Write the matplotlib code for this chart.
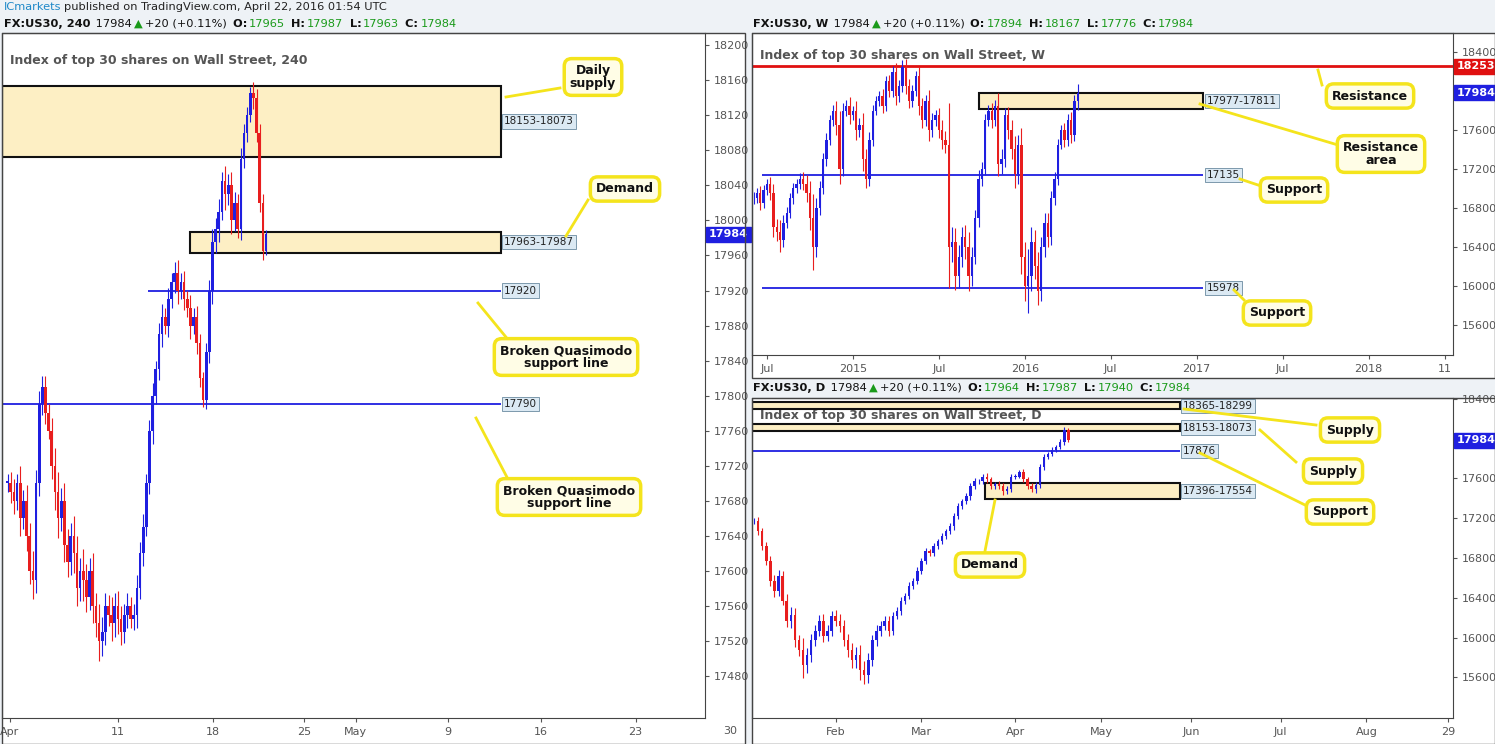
import matplotlib
matplotlib.use("Agg")
import matplotlib.pyplot as plt
from matplotlib.patches import Rectangle
from matplotlib.lines import Line2D

W, H = 1495, 744
UP, DN = "#1f1fe0", "#e81e1e"
ZONE_FC, ZONE_EC = "#fdefc4", "#111111"
CALL_FC, CALL_EC = "#fffde6", "#f4e41c"
LBL_FC = "#dbe9f3"

# ---- 240 chart (candle index 0 = Apr 4, 6 candles per day) ----
h4_close = [17700, 17690, 17680, 17700, 17660, 17680, 17640, 17600, 17590, 17700,
            17790, 17810, 17780, 17760, 17720, 17690, 17660, 17680, 17630, 17610,
            17640, 17620, 17580, 17600, 17590, 17570, 17600, 17560, 17540, 17520,
            17530, 17560, 17550, 17540, 17560, 17545, 17530, 17550, 17560, 17545,
            17550, 17580, 17620, 17650, 17700, 17760, 17800, 17830, 17870, 17890,
            17880, 17910, 17930, 17940, 17920, 17930, 17910, 17900, 17880, 17890,
            17860, 17820, 17795, 17850, 17920, 17975, 17990, 18010, 18045, 18030,
            18040, 18000, 18020, 17990, 18070, 18100, 18120, 18145, 18140, 18100,
            18020, 17965, 17984]
h4_wick = [20, 25, 30, 20, 40, 25, 35, 30, 45, 30,
           30, 25, 25, 20, 30, 40, 45, 30, 40, 35,
           30, 45, 40, 30, 50, 35, 30, 40, 30, 45,
           35, 30, 25, 40, 30, 35, 30, 25, 30, 20,
           25, 30, 25, 30, 20, 25, 30, 20, 25, 30,
           20, 25, 20, 25, 30, 20, 25, 20, 30, 20,
           25, 20, 15, 20, 25, 30, 25, 30, 20, 35,
           25, 30, 25, 20, 25, 20, 20, 15, 25, 20,
           20, 20, 10]
h4_start = -2
h4_ticks = [-1.3, 33, 63.1, 92, 108.5, 137.7, 167.2, 197.3]
h4_ticklabels = ["Apr", "11", "18", "25", "May", "9", "16", "23"]

# ---- weekly chart (index 0 = first week of 2015) ----
wk_close = [16900, 16950, 16850, 16980, 17050, 16950, 16600, 16550, 16470, 16650,
            16750, 16900, 17000, 17050, 17100, 17050, 16950, 16700, 16400, 16800,
            17000, 17300, 17500, 17700, 17800, 17650, 17200, 17800, 17850, 17750,
            17800, 17600, 17650, 17300, 17100, 17500, 17800, 17900, 17950, 17850,
            18100, 18000, 18200, 17950, 18050, 18250, 18050, 17900, 18000, 18150,
            17850, 17700, 17900, 17600, 17700, 17750, 17600, 17500, 17450, 16400,
            16450, 16100, 16300, 16500, 16400, 16100, 16300, 16700, 17100, 17200,
            17700, 17800, 17700, 17850, 17250, 17300, 17750, 17600, 17400, 17150,
            17450, 16300, 16000, 16100, 16450, 16200, 15950, 16400, 16650, 16500,
            16900, 17100, 17450, 17600, 17500, 17700, 17550, 17900, 17984]
wk_wick = [120, 100, 150, 110, 100, 130, 200, 180, 250, 150,
           120, 100, 110, 100, 120, 140, 180, 250, 480, 200,
           150, 120, 130, 100, 120, 200, 300, 150, 120, 180,
           100, 200, 150, 250, 200, 150, 120, 100, 110, 150,
           100, 130, 120, 180, 120, 130, 160, 150, 120, 110,
           200, 150, 120, 230, 150, 120, 160, 200, 180, 850,
           300, 280, 250, 220, 250, 300, 200, 150, 180, 150,
           130, 120, 150, 120, 250, 200, 150, 180, 200, 280,
           200, 350, 300, 550, 300, 250, 300, 200, 200, 200,
           150, 130, 120, 100, 150, 130, 160, 120, 180]
wk_start = -30
wk_ticks = [-26, 0, 26, 52, 78, 104, 130, 156, 179]
wk_ticklabels = ["Jul", "2015", "Jul", "2016", "Jul", "2017", "Jul", "2018", "11"]

# ---- daily chart (trading-day index 0 = Jan 4 2016) ----
d_close = [17170, 17070, 16920, 16770, 16570, 16470, 16620, 16370, 16170, 16230,
           15970, 15870, 15720, 15820, 15970, 16070, 16170, 16020, 16070, 16220,
           16170, 16120, 15970, 15870, 15770, 15820, 15670, 15620, 15770, 15970,
           16070, 16120, 16170, 16070, 16220, 16270, 16370, 16420, 16520, 16570,
           16670, 16770, 16870, 16850, 16920, 16970, 17020, 17070, 17120, 17220,
           17320, 17370, 17420, 17520, 17570, 17570, 17620, 17590, 17520, 17540,
           17520, 17470, 17490, 17620, 17620, 17670, 17590, 17520, 17490, 17530,
           17720, 17820, 17850, 17890, 17920, 17970, 18090, 17984]
d_wick = [60, 80, 70, 90, 100, 120, 110, 90, 130, 150,
          140, 120, 250, 150, 130, 120, 110, 130, 120, 100,
          110, 130, 120, 140, 150, 160, 200, 180, 150, 120,
          110, 100, 90, 100, 80, 70, 80, 60, 70, 60,
          70, 60, 70, 50, 60, 50, 60, 50, 60, 70,
          60, 50, 60, 70, 60, 50, 60, 70, 60, 50,
          60, 70, 60, 50, 60, 40, 60, 50, 60, 70,
          50, 60, 40, 50, 40, 50, 60, 40]
d_ticks = [20, 41, 64, 85, 107, 129, 150, 170]
d_ticklabels = ["Feb", "Mar", "Apr", "May", "Jun", "Jul", "Aug", "29"]

fig = plt.figure(figsize=(W / 100, H / 100), dpi=100)
fig.patch.set_facecolor("#eef2f6")


def px_axes(x0, y0, x1, y1):
    return fig.add_axes([x0 / W, 1 - y1 / H, (x1 - x0) / W, (y1 - y0) / H])


def fpt(x, y):
    return x / W, 1 - y / H


def candles(ax, start, closes, wicks, width):
    opens = [closes[0]] + closes[:-1]
    for i, (o, c, w) in enumerate(zip(opens, closes, wicks)):
        x = start + i
        col = UP if c >= o else DN
        ax.vlines(x, min(o, c) - w * 0.5, max(o, c) + w * 0.5, color=col, lw=0.8, zorder=3)
        ax.bar(x, max(abs(c - o), 3), bottom=min(o, c), width=width, color=col, lw=0, zorder=4)


def style(ax, ticks, labels, xlim, ylim, yticks, axis_px):
    ax.set_xlim(*xlim)
    ax.set_ylim(*ylim)
    ax.set_xticks(ticks)
    ax.set_xticklabels(labels)
    ax.set_yticks(yticks)
    ax.yaxis.tick_right()
    ax.tick_params(labelsize=8, colors="#555555", length=3)
    for s in ax.spines.values():
        s.set_color("#444444")
    # outer border including price scale
    x0, y0, x1, y1 = axis_px
    fig.add_artist(Rectangle(fpt(x0, y1), (x1 - x0) / W, (y1 - y0) / H, transform=fig.transFigure,
                             fill=False, ec="#444444", lw=1))
    fig.add_artist(Rectangle(fpt(x0, y1), (x1 - x0) / W, (y1 - y0) / H, transform=fig.transFigure,
                             fc="white", ec="none", zorder=-5))


def level_label(ax, x, y, text, fc=LBL_FC, color="#222222"):
    ax.text(x, y, text, fontsize=7.5, va="center", ha="left", color=color, zorder=6,
            bbox=dict(boxstyle="square,pad=0.2", fc=fc, ec="#6a8aa0", lw=0.6))


def price_tag(ax, y, text, fc):
    ax.annotate(text, xy=(1, y), xycoords=("axes fraction", "data"), xytext=(3, 0),
                textcoords="offset points", fontsize=8, fontweight="bold", color="white",
                va="center", ha="left", annotation_clip=False, zorder=8,
                bbox=dict(boxstyle="square,pad=0.25", fc=fc, ec=fc))


def callout(x, y, text, lines):
    fig.text(*fpt(x, y), text, fontsize=9, fontweight="bold", ha="center", va="center",
             color="#111111", zorder=10, linespacing=0.95,
             bbox=dict(boxstyle="round,pad=0.45,rounding_size=0.6", fc=CALL_FC, ec=CALL_EC, lw=2.5))
    for (ax0, ay0, ax1, ay1) in lines:
        fig.add_artist(Line2D([ax0 / W, ax1 / W], [1 - ay0 / H, 1 - ay1 / H], color=CALL_EC, lw=2,
                              transform=fig.transFigure, zorder=9))


def header(x, y, parts):
    r = fig.canvas.get_renderer()
    for text, color, bold in parts:
        t = fig.text(*fpt(x, y), text, fontsize=8.2, color=color, va="center",
                     fontweight="bold" if bold else "normal")
        x += t.get_window_extent(r).width + 2


def quote_parts(name, o, h, l, c):
    g = "#1a9a1a"
    return [(name, "#111111", True), (" 17984", "#111111", False), ("▲", g, False),
            ("+20 (+0.11%)", "#111111", False), (" O:", "#111111", True), (o, g, False),
            (" H:", "#111111", True), (h, g, False), (" L:", "#111111", True), (l, g, False),
            (" C:", "#111111", True), (c, g, False)]


# top line
header(4, 7, [("ICmarkets", "#1e88c8", False), ("published on TradingView.com, April 22, 2016 01:54 UTC", "#222222", False)])
header(4, 24, quote_parts("FX:US30, 240", "17965", "17987", "17963", "17984"))
header(753, 24, quote_parts("FX:US30, W", "17894", "18167", "17776", "17984"))
header(753, 388, quote_parts("FX:US30, D", "17964", "17987", "17940", "17984"))

# ---------------- left: 240 ----------------
ax = px_axes(2, 33, 705, 718)
style(ax, h4_ticks, h4_ticklabels, (-3.8, 219.3), (17432, 18214),
      list(range(17480, 18201, 40)), (2, 33, 745, 744))
fig.text(*fpt(730, 731), "30", fontsize=8, color="#555555", ha="center", va="center")
candles(ax, h4_start, h4_close, h4_wick, 0.85)
ax.add_patch(Rectangle((-3.8, 18073), 158.3, 80, fc=ZONE_FC, ec=ZONE_EC, lw=1.5, zorder=1))
ax.add_patch(Rectangle((56, 17963), 98.5, 24, fc=ZONE_FC, ec=ZONE_EC, lw=1.5, zorder=1))
ax.hlines(17920, 42.6, 154.5, color=UP, lw=1.3, zorder=2)
ax.hlines(17790, -3.8, 154.5, color=UP, lw=1.3, zorder=2)
level_label(ax, 155.5, 18113, "18153-18073")
level_label(ax, 155.5, 17975, "17963-17987")
level_label(ax, 155.5, 17920, "17920")
level_label(ax, 155.5, 17790, "17790")
price_tag(ax, 17984, "17984", UP)
ax.text(0.012, 0.97, "Index of top 30 shares on Wall Street, 240", transform=ax.transAxes,
        fontsize=9, fontweight="bold", color="#555555", va="top")

callout(593, 77, "Daily\nsupply", [(560, 88, 506, 97)])
callout(625, 189, "Demand", [(588, 200, 566, 236)])
callout(566, 357, "Broken Quasimodo\nsupport line", [(478, 303, 510, 342)])
callout(569, 497, "Broken Quasimodo\nsupport line", [(476, 418, 510, 483)])

# ---------------- top right: weekly ----------------
axw = px_axes(752, 33, 1453, 355)
style(axw, wk_ticks, wk_ticklabels, (-30.5, 181.5), (15292, 18595),
      [15600, 16000, 16400, 16800, 17200, 17600, 18400], (752, 33, 1495, 378))
candles(axw, wk_start, wk_close, wk_wick, 0.7)
axw.axhline(18253, color="#e01010", lw=2, zorder=2)
axw.add_patch(Rectangle((38, 17811), 68, 166, fc=ZONE_FC, ec=ZONE_EC, lw=1.5, zorder=1))
axw.hlines(17135, -27.5, 106, color=UP, lw=1.3, zorder=2)
axw.hlines(15978, -27.5, 106, color=UP, lw=1.3, zorder=2)
level_label(axw, 107, 17894, "17977-17811")
level_label(axw, 107, 17135, "17135")
level_label(axw, 107, 15978, "15978")
price_tag(axw, 18253, "18253", "#e01010")
price_tag(axw, 17984, "17984", UP)
axw.text(0.012, 0.95, "Index of top 30 shares on Wall Street, W", transform=axw.transAxes,
         fontsize=9, fontweight="bold", color="#555555", va="top")

callout(1370, 96, "Resistance", [(1322, 85, 1318, 70)])
callout(1381, 154, "Resistance\narea", [(1338, 145, 1200, 104)])
callout(1294, 190, "Support", [(1258, 185, 1240, 179)])
callout(1277, 313, "Support", [(1244, 300, 1234, 290)])

# ---------------- bottom right: daily ----------------
axd = px_axes(752, 398, 1453, 718)
style(axd, d_ticks, d_ticklabels, (-0.5, 171.2), (15190, 18410),
      [15600, 16000, 16400, 16800, 17200, 17600, 18400], (752, 398, 1495, 744))
axd.text(0.012, 0.965, "Index of top 30 shares on Wall Street, D", transform=axd.transAxes,
         fontsize=9, fontweight="bold", color="#555555", va="top", zorder=0)
candles(axd, 0, d_close, d_wick, 0.6)
axd.add_patch(Rectangle((-0.5, 18299), 104.8, 66, fc=ZONE_FC, ec=ZONE_EC, lw=1.5, zorder=1))
axd.add_patch(Rectangle((-0.5, 18073), 104.8, 80, fc=ZONE_FC, ec=ZONE_EC, lw=1.5, zorder=1))
axd.add_patch(Rectangle((56.5, 17396), 47.8, 158, fc=ZONE_FC, ec=ZONE_EC, lw=1.5, zorder=1))
axd.hlines(17876, -0.5, 104.3, color=UP, lw=1.3, zorder=2)
level_label(axd, 105, 18332, "18365-18299")
level_label(axd, 105, 18113, "18153-18073")
level_label(axd, 105, 17876, "17876")
level_label(axd, 105, 17475, "17396-17554")
price_tag(axd, 17984, "17984", UP)

callout(1350, 430, "Supply", [(1316, 425, 1184, 409)])
callout(1333, 471, "Supply", [(1296, 462, 1260, 430)])
callout(1340, 512, "Support", [(1305, 505, 1200, 453)])
callout(990, 565, "Demand", [(985, 551, 995, 500)])

fig.savefig("out.png", dpi=100, facecolor=fig.get_facecolor())
